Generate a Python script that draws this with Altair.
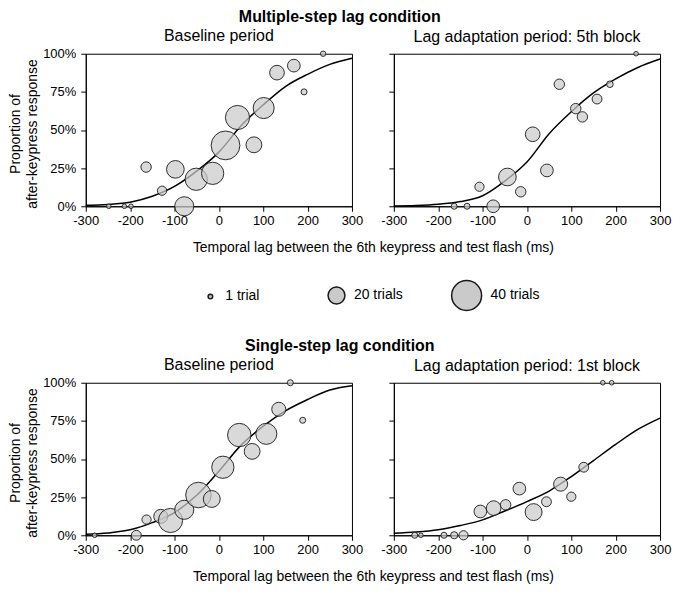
import altair as alt
import pandas as pd

FONT = "Liberation Sans"

# ---------------- data ----------------
tick_lags = [-300, -200, -100, 0, 100, 200, 300]
tick_props = [0, 0.25, 0.5, 0.75, 1.0]
legend_trials = [1, 20, 40]

curve_lag = [-300, -250, -200, -150, -100, -50, 0, 50, 100, 150, 200, 250, 300]

# Multiple-step lag condition, baseline period
lag_a = [-248, -213, -198, -164, -128, -98, -78, -51, -14, 15, 42, 79, 101, 131, 169, 192, 235]
prop_a = [0, 0, 0, 0.257, 0.102, 0.242, 0, 0.177, 0.216, 0.399, 0.582, 0.403, 0.644, 0.876, 0.922, 0.75, 1.0]
trials_a = [1, 1, 1, 10, 8, 21, 23, 28, 28, 38, 31, 18, 26, 16, 13, 3, 2]
fit_a = [0.006, 0.012, 0.027, 0.066, 0.13, 0.23, 0.355, 0.528, 0.665, 0.785, 0.865, 0.93, 0.97]

# Multiple-step lag condition, lag adaptation period: 5th block
lag_b = [-164, -135, -107, -76, -44, -14, 13, 45, 73, 110, 125, 158, 187, 246]
prop_b = [0, 0, 0.128, 0, 0.192, 0.095, 0.472, 0.235, 0.80, 0.64, 0.586, 0.703, 0.80, 1.0]
trials_b = [3, 3, 8, 13, 21, 10, 16, 13, 10, 10, 10, 9, 4, 1]
fit_b = [0.002, 0.005, 0.013, 0.031, 0.069, 0.165, 0.29, 0.476, 0.62, 0.743, 0.835, 0.91, 0.965]

# Single-step lag condition, baseline period
lag_c = [-280, -186, -163, -131, -109, -78, -46, -16, 9, 46, 75, 107, 135, 161, 189]
prop_c = [0, 0, 0.103, 0.124, 0.097, 0.167, 0.264, 0.238, 0.446, 0.657, 0.55, 0.665, 0.826, 1.0, 0.754]
trials_c = [1, 9, 8, 15, 31, 23, 33, 20, 28, 30, 18, 26, 15, 3, 3]
fit_c = [0.006, 0.015, 0.036, 0.083, 0.149, 0.262, 0.42, 0.591, 0.715, 0.816, 0.89, 0.952, 0.98]

# Single-step lag condition, lag adaptation period: 1st block
lag_d = [-253, -239, -187, -164, -143, -105, -75, -48, -17, 15, 44, 76, 100, 128, 171, 191]
prop_d = [0, 0, 0, 0, 0, 0.156, 0.178, 0.20, 0.306, 0.152, 0.22, 0.335, 0.253, 0.446, 1.0, 1.0]
trials_d = [3, 1, 3, 5, 8, 13, 16, 10, 13, 20, 9, 15, 8, 9, 1, 1]
fit_d = [0.013, 0.021, 0.036, 0.064, 0.101, 0.159, 0.221, 0.29, 0.385, 0.49, 0.596, 0.694, 0.768]

X_TITLE = "Temporal lag between the 6th keypress and test flash (ms)"
Y_TITLE = ["Proportion of", "after-keypress response"]

PW, PH, GAP = 267, 153, 42

size_scale = alt.Scale(domain=[1, 5, 10, 20, 30, 40],
                       range=[21, 52, 109, 288, 552, 902], zero=False)

legend = alt.Legend(
    orient="none", legendX=118, legendY=226, direction="horizontal",
    values=legend_trials, title=None,
    labelExpr="datum.value == 1 ? '1 trial' : datum.value + ' trials'",
    labelFont=FONT, labelFontSize=14, labelColor="black",
    symbolType="circle",
    gridAlign="all", columnPadding=31, labelOffset=8, padding=0,
)


def panel(lag, prop, trials, fit, subtitle, left):
    pts = pd.DataFrame({"lag": lag, "prop": prop, "trials": trials})
    cur = pd.DataFrame({"lag": curve_lag, "prop": fit})
    x_axis = alt.Axis(values=tick_lags, tickSize=5, labelPadding=3,
                      labelFontSize=13, labelExpr="'' + datum.value",
                      labelFlush=False,
                      title=X_TITLE if left else None,
                      titleX=(2 * PW + GAP) / 2, titleAlign="center",
                      titlePadding=13, titleFontSize=14)
    y_axis = alt.Axis(values=tick_props, format=".0%", tickSize=5,
                      labelPadding=5, labelFontSize=13, labels=left,
                      labelFlush=False,
                      title=Y_TITLE if left else None, titleFontSize=14,
                      titleLineHeight=17, titlePadding=3, titleY=80)
    x = alt.X("lag:Q", scale=alt.Scale(domain=[-300, 300], nice=False), axis=x_axis)
    y = alt.Y("prop:Q", scale=alt.Scale(domain=[0, 1], nice=False), axis=y_axis)
    line = alt.Chart(cur).mark_line(color="black", strokeWidth=1.5,
                                    interpolate="monotone").encode(x=x, y=y)
    dots = alt.Chart(pts).mark_circle(
        fill="#cacaca", fillOpacity=0.72, opacity=1,
        stroke="#1a1a1a", strokeWidth=1, strokeOpacity=0.9,
    ).encode(x=x, y=y,
             size=alt.Size("trials:Q", scale=size_scale, legend=legend))
    return alt.layer(line, dots).properties(
        width=PW, height=PH,
        title=alt.TitleParams(subtitle, fontSize=16, fontWeight="normal",
                              font=FONT, color="black", offset=4),
    )


p1 = panel(lag_a, prop_a, trials_a, fit_a, "Baseline period", True)
p2 = panel(lag_b, prop_b, trials_b, fit_b, "Lag adaptation period: 5th block", False)
p3 = panel(lag_c, prop_c, trials_c, fit_c, "Baseline period", True)
p4 = panel(lag_d, prop_d, trials_d, fit_d, "Lag adaptation period: 1st block", False)

row1 = alt.hconcat(p1, p2, spacing=GAP, bounds="flush").properties(
    title=alt.TitleParams("Multiple-step lag condition", fontSize=16,
                          fontWeight="bold", font=FONT, color="black",
                          anchor="middle", offset=2))
row2 = alt.hconcat(p3, p4, spacing=GAP, bounds="flush").properties(
    title=alt.TitleParams("Single-step lag condition", fontSize=16,
                          fontWeight="bold", font=FONT, color="black",
                          anchor="middle", offset=2))

chart = alt.vconcat(row1, row2, spacing=83).properties(
    padding={"left": 0, "top": 0, "right": 0, "bottom": 0}
).configure(font=FONT).configure_view(
    stroke="black", strokeWidth=1
).configure_axis(
    domainColor="black", tickColor="black", labelColor="black",
    titleColor="black", grid=False, labelFont=FONT, titleFont=FONT,
    titleFontWeight="normal", domainWidth=1, tickWidth=1,
)

chart.save("out.html", embed_options={"renderer": "svg", "actions": False})
